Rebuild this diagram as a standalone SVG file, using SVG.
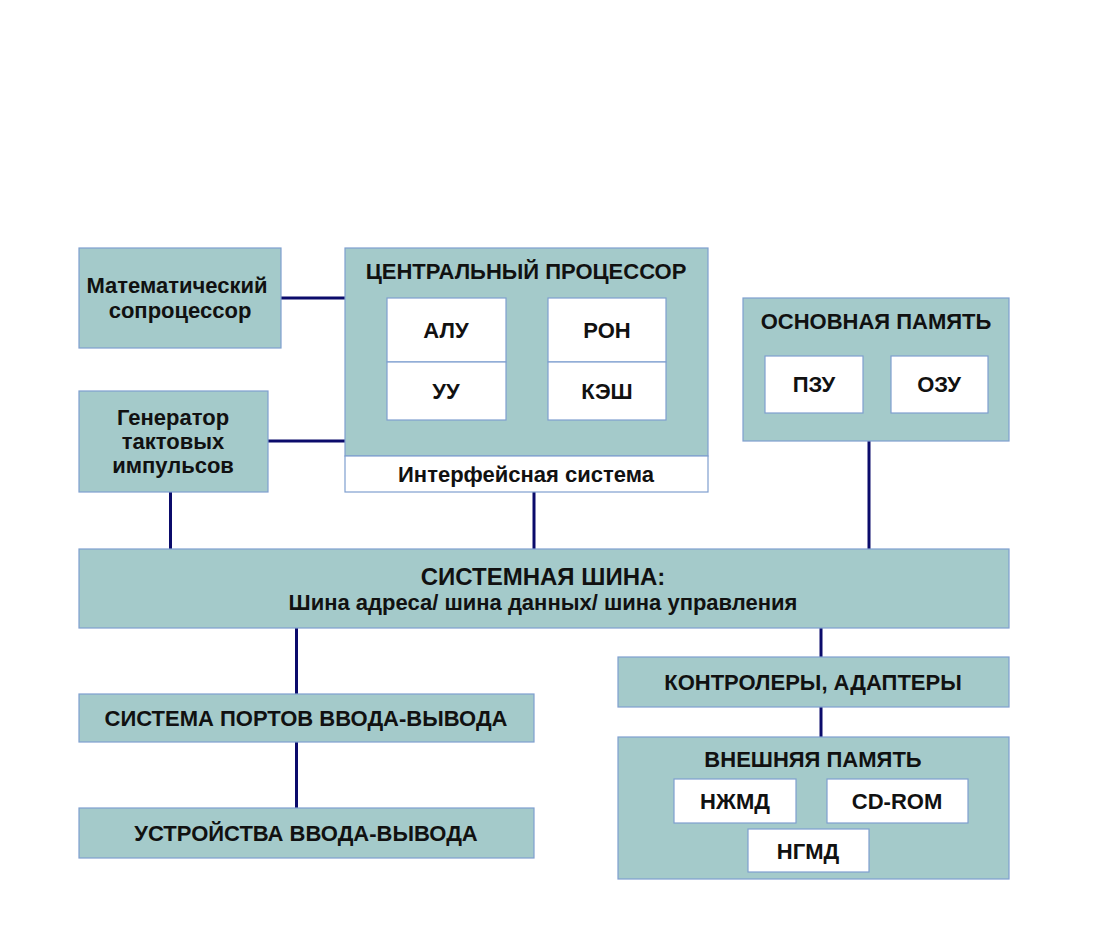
<svg xmlns="http://www.w3.org/2000/svg" width="1102" height="928" viewBox="0 0 1102 928">
<style>
.box{fill:#a4caca;stroke:#7f9fcf;stroke-width:1.2}
.wb{fill:#ffffff;stroke:#7f9fcf;stroke-width:1.2}
.t{font-family:"Liberation Sans",Arial,sans-serif;font-weight:bold;font-size:22px;fill:#111;text-anchor:middle}
.big{font-size:24px}
.c line{stroke:#0b0b6b;stroke-width:3}
</style>
<rect width="1102" height="928" fill="#fff"/>
<g class="c" id="connectors">
<line x1="281" y1="298" x2="345" y2="298"/>
<line x1="268" y1="441" x2="345" y2="441"/>
<line x1="170.5" y1="492" x2="170.5" y2="549"/>
<line x1="534" y1="492" x2="534" y2="549"/>
<line x1="869" y1="441" x2="869" y2="549"/>
<line x1="296.5" y1="628" x2="296.5" y2="694"/>
<line x1="296.5" y1="742" x2="296.5" y2="808"/>
<line x1="821" y1="628" x2="821" y2="657"/>
<line x1="821" y1="707" x2="821" y2="737"/>
</g>
<g id="coprocessor">
<rect class="box" x="79" y="248" width="202" height="100"/>
<text class="t" x="177" y="293">Математический</text>
<text class="t" x="180" y="318">сопроцессор</text>
</g>
<g id="generator">
<rect class="box" x="79" y="391" width="189" height="101"/>
<text class="t" x="173" y="425">Генератор</text>
<text class="t" x="173" y="449">тактовых</text>
<text class="t" x="173" y="473">импульсов</text>
</g>
<g id="cpu">
<rect class="box" x="345" y="248" width="363" height="208"/>
<rect class="wb" x="345" y="456" width="363" height="36"/>
<text class="t" x="526" y="279">ЦЕНТРАЛЬНЫЙ ПРОЦЕССОР</text>
<text class="t" x="526" y="482">Интерфейсная система</text>
<rect class="wb" x="387" y="298" width="119" height="64"/>
<rect class="wb" x="387" y="362" width="119" height="58"/>
<rect class="wb" x="548" y="298" width="118" height="64"/>
<rect class="wb" x="548" y="362" width="118" height="58"/>
<text class="t" x="446" y="338">АЛУ</text>
<text class="t" x="446" y="399">УУ</text>
<text class="t" x="607" y="338">РОН</text>
<text class="t" x="607" y="399">КЭШ</text>
</g>
<g id="main-memory">
<rect class="box" x="743" y="298" width="266" height="143"/>
<text class="t" x="876" y="329">ОСНОВНАЯ ПАМЯТЬ</text>
<rect class="wb" x="765" y="356" width="98" height="57"/>
<rect class="wb" x="891" y="356" width="97" height="57"/>
<text class="t" x="814" y="392">ПЗУ</text>
<text class="t" x="939" y="392">ОЗУ</text>
</g>
<g id="system-bus">
<rect class="box" x="79" y="549" width="930" height="79"/>
<text class="t big" x="543" y="585">СИСТЕМНАЯ ШИНА:</text>
<text class="t" x="543" y="610">Шина адреса/ шина данных/ шина управления</text>
</g>
<g id="ports">
<rect class="box" x="79" y="694" width="455" height="48"/>
<text class="t" x="306" y="726">СИСТЕМА ПОРТОВ ВВОДА-ВЫВОДА</text>
</g>
<g id="devices">
<rect class="box" x="79" y="808" width="455" height="50"/>
<text class="t" x="306" y="841">УСТРОЙСТВА ВВОДА-ВЫВОДА</text>
</g>
<g id="controllers">
<rect class="box" x="618" y="657" width="391" height="50"/>
<text class="t" x="813" y="690">КОНТРОЛЕРЫ, АДАПТЕРЫ</text>
</g>
<g id="external-memory">
<rect class="box" x="618" y="737" width="391" height="142"/>
<text class="t" x="813" y="767">ВНЕШНЯЯ ПАМЯТЬ</text>
<rect class="wb" x="674" y="779" width="122" height="44"/>
<rect class="wb" x="827" y="779" width="141" height="44"/>
<rect class="wb" x="748" y="829" width="121" height="43"/>
<text class="t" x="735" y="809">НЖМД</text>
<text class="t" x="897" y="809">CD-ROM</text>
<text class="t" x="808" y="859">НГМД</text>
</g>
</svg>
